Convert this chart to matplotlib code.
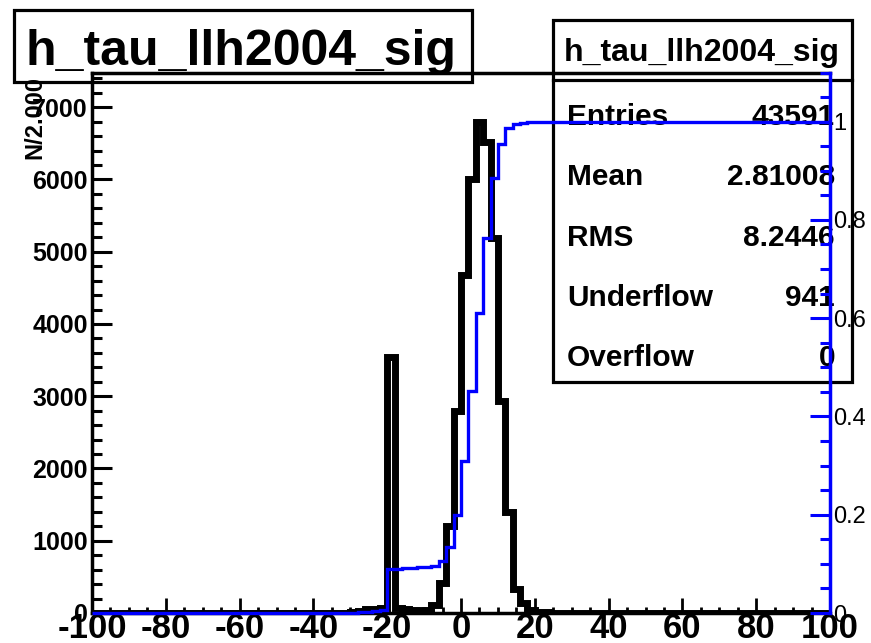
import matplotlib
matplotlib.use('Agg')
import matplotlib.pyplot as plt
import numpy as np
from matplotlib.patches import Rectangle
from matplotlib.ticker import MultipleLocator

# histogram h_tau_llh2004_sig: 100 bins of width 2 from -100 to 100
x_lo, x_hi, bin_w = -100, 100, 2
core_start = -30          # first bin shown in core_counts, everything else is empty
core_counts = [15, 30, 50, 60, 75,            # -30 .. -22
               3542, 70, 55, 40, 30,          # -20 .. -12
               40, 110, 422, 1199, 2800,      # -10 .. -2
               4673, 6010, 6800, 6522, 5185,  #   0 .. 8
               2927, 1396, 332, 140, 40,      #  10 .. 18
               20, 10, 5, 0, 0]               #  20 .. 28

hist_name = 'h_tau_llh2004_sig'
stat_names = ['Entries', 'Mean', 'RMS', 'Underflow', 'Overflow']
stat_values = ['43591', '2.81008', '8.2446', '941', '0']

edges = np.arange(x_lo, x_hi + bin_w, bin_w)
counts = np.zeros(len(edges) - 1)
i0 = (core_start - x_lo) // bin_w
counts[i0:i0 + len(core_counts)] = core_counts
cumul = np.cumsum(counts) / counts.sum()

plt.rcParams['font.family'] = ['Liberation Sans', 'DejaVu Sans']
plt.rcParams['font.weight'] = 'bold'
plt.rcParams['axes.unicode_minus'] = False

W, H = 871, 643
fig = plt.figure(figsize=(W / 100, H / 100), dpi=100)

# background layer in pixel coordinates: title box and stats box
bg = fig.add_axes([0, 0, 1, 1], zorder=0)
bg.set_xlim(0, W)
bg.set_ylim(H, 0)
bg.axis('off')
bg.add_patch(Rectangle((13.5, 9.5), 458, 72, fc='white', ec='black', lw=2.3))
bg.text(241, 65, hist_name, fontsize=36, ha='center', va='baseline')
bg.add_patch(Rectangle((552.5, 19.5), 299, 362, fc='white', ec='black', lw=2.3))
bg.plot([552.5, 851.5], [80, 80], color='black', lw=2.3)
bg.text(702, 61, hist_name, fontsize=23, ha='center', va='baseline')
for k, (nm, val) in enumerate(zip(stat_names, stat_values)):
    yb = 125 + 60.3 * k
    bg.text(567, yb, nm, fontsize=21.5, ha='left', va='baseline')
    bg.text(835, yb, val, fontsize=21.5, ha='right', va='baseline')
bg.text(35, 76, 'N/2.000', fontsize=17, rotation=90, ha='center', va='top')

# main frame
L, R, B, T = 92, 830, 613, 72.5
ax = fig.add_axes([L / W, 1 - B / H, (R - L) / W, (B - T) / H], zorder=1)
ax.patch.set_visible(False)
ax.stairs(counts, edges, baseline=0, color='black', linewidth=5)
ax.set_xlim(x_lo, x_hi)
ax.set_ylim(0, 1.1 * counts.max())
ax.xaxis.set_major_locator(MultipleLocator(20))
ax.xaxis.set_minor_locator(MultipleLocator(5))
ax.yaxis.set_major_locator(MultipleLocator(1000))
ax.yaxis.set_minor_locator(MultipleLocator(200))
ax.tick_params(axis='x', which='major', direction='in', length=10.5, width=2, pad=-1,
               labelsize=25, labelfontfamily=['Liberation Sans Narrow', 'Liberation Sans'])
ax.tick_params(axis='x', which='minor', direction='in', length=4.5, width=2)
ax.tick_params(axis='y', which='major', direction='in', length=14.4, width=2.2, pad=3, labelsize=18)
ax.tick_params(axis='y', which='minor', direction='in', length=7.2, width=2.2)
for s in ['left', 'bottom', 'top']:
    ax.spines[s].set_linewidth(2.5)
ax.spines['right'].set_visible(False)

# cumulative distribution on its own blue axis at the right
ax2 = ax.twinx()
ax2.set_zorder(2)
ax2.patch.set_visible(False)
ax2.stairs(cumul, edges, baseline=None, color='blue', linewidth=2.4, clip_on=False)
ax2.set_ylim(0, 1.1)
ax2.yaxis.set_major_locator(MultipleLocator(0.2))
ax2.yaxis.set_minor_locator(MultipleLocator(0.05))
ax2.yaxis.set_major_formatter(matplotlib.ticker.FuncFormatter(lambda v, p: '%g' % round(v, 2)))
ax2.tick_params(axis='y', which='major', direction='in', length=14.4, width=2.2, color='blue',
                labelcolor='black', labelsize=17, pad=2)
ax2.tick_params(axis='y', which='minor', direction='in', length=7.2, width=2.2, color='blue')
for lbl in ax2.get_yticklabels():
    lbl.set_fontweight('normal')
for s in ['left', 'bottom', 'top']:
    ax2.spines[s].set_visible(False)
ax2.spines['right'].set_color('blue')
ax2.spines['right'].set_linewidth(2.5)

fig.savefig('out.png', dpi=100)
